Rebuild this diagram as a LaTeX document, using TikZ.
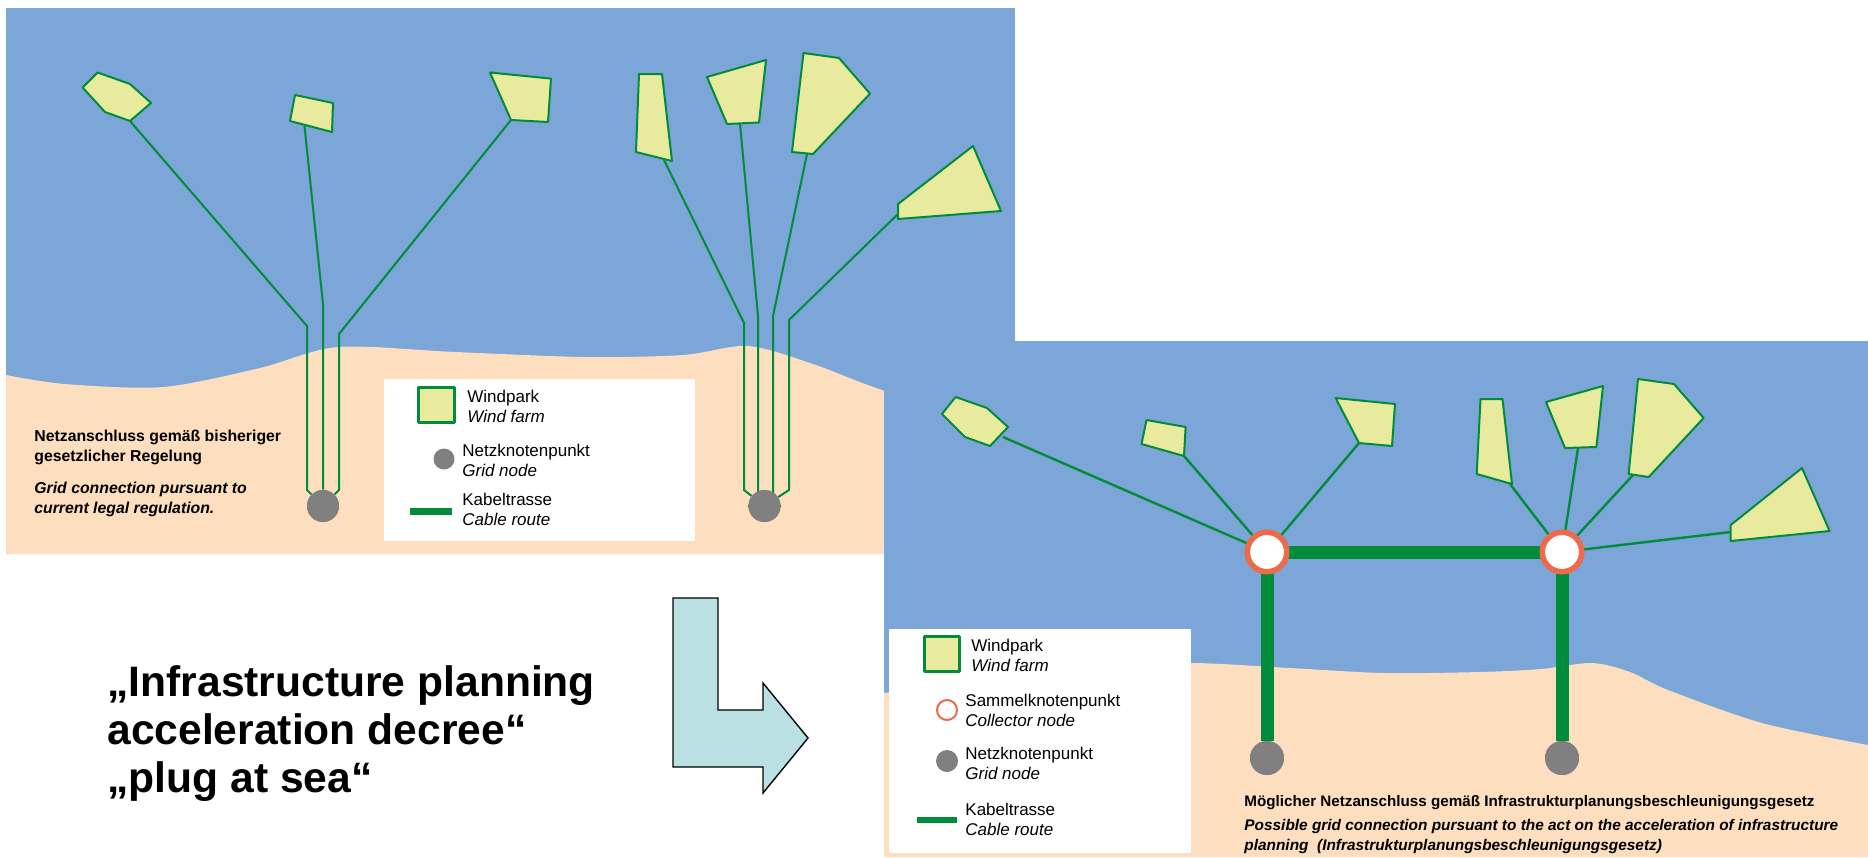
\documentclass[tikz,border=0pt]{standalone}
\usepackage{fontspec}
\setmainfont{Liberation Sans}
\definecolor{sea}{RGB}{123,166,215}
\definecolor{sand}{RGB}{253,222,190}
\definecolor{farmc}{RGB}{232,235,158}
\definecolor{cab}{RGB}{0,140,58}
\definecolor{knot}{RGB}{128,128,128}
\definecolor{ring}{RGB}{238,106,74}
\definecolor{arrowc}{RGB}{187,224,228}
\begin{document}
\begin{tikzpicture}[x=0.5pt,y=-0.5pt,
  cable/.style={draw=cab,line width=1pt},
  trunk/.style={draw=cab,line width=6.5pt},
  farm/.style={draw=cab,fill=farmc,line width=1pt,line join=round},
  gridnode/.style={circle,fill=knot,inner sep=0pt,minimum size=16pt},
  collector/.style={circle,draw=ring,fill=white,line width=2.75pt,inner sep=0pt,minimum size=19.75pt},
  lbl/.style={anchor=west,align=left,inner sep=0pt,font=\fontsize{8.5}{10}\selectfont},
  ttl/.style={anchor=west,align=left,inner sep=0pt,font=\fontsize{7.9}{10}\selectfont\bfseries},
  ttlit/.style={ttl,font=\fontsize{7.9}{10}\selectfont\bfseries\itshape}]
\useasboundingbox (0,0) rectangle (1868,857);
\fill[white] (0,0) rectangle (1868,857);
% current legal regulation
\fill[sea] (6,8) rectangle (1015,554);
\fill[sand] plot[smooth] coordinates {(6,375) (65,384) (163,387) (260,368) (338,347) (455,352) (585,357) (683,355) (748,346) (813,364) (885,391) (1015,430)} -- (1015,554) -- (6,554) -- cycle;
\draw[farm] (97.6,72.5) -- (130,84) -- (151,103) -- (130,121) -- (105,112) -- (82.6,87.5) -- cycle;
\draw[farm] (295,95) -- (333,103) -- (332,132) -- (290,121) -- cycle;
\draw[farm] (490,72.5) -- (551,78.6) -- (548,122) -- (511,120) -- cycle;
\draw[farm] (639,74) -- (662,74) -- (672,161) -- (636,152) -- cycle;
\draw[farm] (707,77) -- (766,60) -- (759,122.5) -- (727,124) -- cycle;
\draw[farm] (803.5,53) -- (839,58) -- (870,93.6) -- (813,154) -- (792,152) -- cycle;
\draw[farm] (973,146) -- (1001,211) -- (898,219) -- (898,204) -- cycle;
\coordinate (a1) at (130,121);
\coordinate (a2) at (304.5,126);
\coordinate (a3) at (511,120);
\coordinate (a4) at (664,160);
\coordinate (a5) at (740,124);
\coordinate (a6) at (807,154);
\coordinate (a7) at (898,214);
\node[gridnode] (g1) at (323,506) {};
\node[gridnode] (g2) at (764.5,506) {};
\draw[cable] (a1) -- (307,326) -- (307,490) -- (g1);
\draw[cable] (a2) -- (323,304) -- (g1);
\draw[cable] (a3) -- (339,334) -- (339,490) -- (g1);
\draw[cable] (a4) -- (744,323) -- (744,490) -- (g2);
\draw[cable] (a5) -- (758,316) |- (g2);
\draw[cable] (a6) -- (773,316) |- (g2);
\draw[cable] (a7) -- (789,320) -- (789,490) -- (g2);
\node[gridnode] at (g1) {};
\node[gridnode] at (g2) {};
\fill[white] (384,379) rectangle (695,541);
\draw[farm,line width=1.5pt] (418,387) rectangle (454,422);
\node[lbl] (t1) at (467,406.5) {Windpark\\\textit{Wind farm}};
\node[gridnode,minimum size=10.5pt] (tg) at (444,459) {};
\node[lbl] (t2) at (462,460) {Netzknotenpunkt\\\textit{Grid node}};
\draw[cab,line width=3.5pt] (410,511.5) -- (452,511.5);
\node[lbl] (t3) at (462,509.5) {Kabeltrasse\\\textit{Cable route}};
\node[ttl] (tde) at (34,447) {Netzanschluss gemäß bisheriger\\gesetzlicher Regelung};
\node[ttlit] (ten) at (34,499) {Grid connection pursuant to\\current legal regulation.};
% plug at sea
\fill[sea] (884,341) rectangle (1868,857);
\fill[sand] plot[smooth] coordinates {(884,693) (1000,680) (1100,668) (1190,663) (1290,668) (1384,673) (1480,672) (1541,669) (1592,663) (1630,672) (1668,690) (1762,723) (1868,745)} -- (1868,857) -- (884,857) -- cycle;
\draw[farm] (955.6,397) -- (987,408) -- (1008,427) -- (990,446) -- (965,437) -- (942,414) -- cycle;
\draw[farm] (1146.5,420) -- (1185.6,427) -- (1184,456) -- (1141.5,444) -- cycle;
\draw[farm] (1335.6,398) -- (1395,404) -- (1392,446) -- (1359,443) -- cycle;
\draw[farm] (1480.5,399) -- (1502.5,399) -- (1512,484) -- (1476.7,474) -- cycle;
\draw[farm] (1546,402) -- (1603,386) -- (1596.4,447) -- (1565,448) -- cycle;
\draw[farm] (1638,379) -- (1674,384) -- (1703.6,418) -- (1648.7,477) -- (1628.6,474) -- cycle;
\draw[farm] (1802,468) -- (1829.6,531) -- (1730.7,541) -- (1730.7,525) -- cycle;
\coordinate (b1) at (1003,437);
\coordinate (b2) at (1184,456);
\coordinate (b3) at (1359,443);
\coordinate (b4) at (1510,484);
\coordinate (b5) at (1578,448);
\coordinate (b6) at (1633,475);
\coordinate (b7) at (1730.7,532);
\node[gridnode,minimum size=17pt] (n1) at (1267,758) {};
\node[gridnode,minimum size=17pt] (n2) at (1562,758) {};
\coordinate (k1) at (1267,552);
\coordinate (k2) at (1562,552);
\draw[trunk] (k1) -- (k2);
\draw[trunk] (k1) -- (n1);
\draw[trunk] (k2) -- (n2);
\foreach \f in {b1,b2,b3} \draw[cable,line width=1.2pt] (\f) -- (k1);
\foreach \f in {b4,b5,b6,b7} \draw[cable,line width=1.2pt] (\f) -- (k2);
\node[collector] (c1) at (k1) {};
\node[collector] (c2) at (k2) {};
\node[gridnode,minimum size=17pt] at (n1) {};
\node[gridnode,minimum size=17pt] at (n2) {};
\fill[white] (889,629) rectangle (1191,853);
\draw[farm,line width=1.5pt] (924,636) rectangle (959,671);
\node[lbl] (l1) at (971,655) {Windpark\\\textit{Wind farm}};
\node[collector,line width=1pt,minimum size=10pt] (lc) at (947,710) {};
\node[lbl] (l2) at (965,710) {Sammelknotenpunkt\\\textit{Collector node}};
\node[gridnode,minimum size=11pt] (lg) at (947,761) {};
\node[lbl] (l3) at (965,763) {Netzknotenpunkt\\\textit{Grid node}};
\draw[cab,line width=3pt] (916.5,820) -- (957,820);
\node[lbl] (l4) at (965,819) {Kabeltrasse\\\textit{Cable route}};
\node[ttl,font=\fontsize{7.6}{10}\selectfont\bfseries] (bde) at (1244,803) {Möglicher Netzanschluss gemäß Infrastrukturplanungsbeschleunigungsgesetz};
\node[ttlit,font=\fontsize{7.7}{10}\selectfont\bfseries\itshape] (ben) at (1244,837) {Possible grid connection pursuant to the act on the acceleration of infrastructure\\planning\ \ (Infrastrukturplanungsbeschleunigungsgesetz)};
% decree
\node[anchor=west,align=left,inner sep=0pt,font=\fontsize{21.3}{24}\selectfont\bfseries] (motto) at (107,734) {„Infrastructure planning\\acceleration decree“\\„plug at sea“};
\draw[fill=arrowc,line width=0.7pt,line join=miter] (673,598) -- (718,598) -- (718,710) -- (763,710) -- (763,683) -- (808,738) -- (763,793) -- (763,767) -- (673,767) -- cycle;
\end{tikzpicture}
\end{document}
